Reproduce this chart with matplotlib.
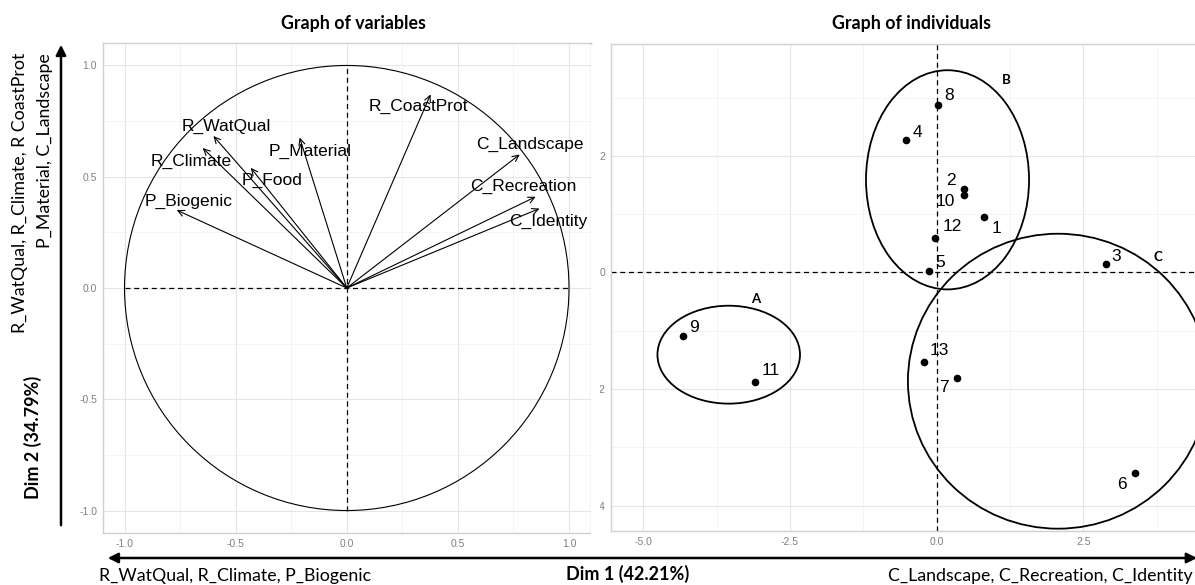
import matplotlib.pyplot as plt
from matplotlib.patches import Ellipse, Circle, Rectangle, FancyArrowPatch

plt.rcParams['font.family'] = ['Liberation Sans', 'DejaVu Sans']

# variables on the correlation circle
var_names = ["R_CoastProt", "R_WatQual", "R_Climate", "P_Food", "P_Material",
             "P_Biogenic", "C_Landscape", "C_Recreation", "C_Identity"]
var_dim1 = [0.377, -0.600, -0.648, -0.432, -0.212, -0.765, 0.778, 0.850, 0.867]
var_dim2 = [0.870, 0.683, 0.629, 0.540, 0.676, 0.350, 0.600, 0.410, 0.357]

# individuals
ind_names = ["1", "2", "3", "4", "5", "6", "7", "8", "9", "10", "11", "12", "13"]
ind_dim1 = [0.81, 0.46, 2.88, -0.52, -0.13, 3.38, 0.35, 0.03, -4.32, 0.46, -3.10, -0.02, -0.22]
ind_dim2 = [0.95, 1.43, 0.14, 2.27, 0.02, -3.44, -1.81, 2.88, -1.09, 1.33, -1.88, 0.60, -1.53]

# groups drawn as ellipses
group_names = ["A", "B", "C"]
group_cx = [-3.545, 0.185, 2.07]
group_cy = [-1.41, 1.59, -1.865]
group_rx = [1.215, 1.39, 2.56]
group_ry = [0.84, 1.88, 2.53]

# label placement (repel-like)
var_label_pos = {"R_CoastProt": (0.32, 0.815), "R_WatQual": (-0.544, 0.728),
                 "R_Climate": (-0.70, 0.57), "P_Food": (-0.338, 0.485),
                 "P_Material": (-0.166, 0.615), "P_Biogenic": (-0.711, 0.39),
                 "C_Landscape": (0.824, 0.645), "C_Recreation": (0.795, 0.458),
                 "C_Identity": (0.905, 0.30)}
# offsets in pixels (dx right, dy down)
ind_label_off = {"1": (12, 11), "2": (-13, -9), "3": (11, -8), "4": (11, -8),
                 "5": (11, -9), "6": (-13, 11), "7": (-13, 10), "8": (11, -9),
                 "9": (11, -9), "10": (-18, 7), "11": (16, -12), "12": (17, -11),
                 "13": (16, -11)}
group_label_pos = {"A": (-3.08, -0.45), "B": (1.19, 3.31), "C": (3.77, 0.26)}

W, H = 1195, 585
fig = plt.figure(figsize=(W / 100, H / 100), dpi=100)


def style_axes(ax, xmaj, xmin, ymaj, ymin):
    ax.set_xticks(xmaj)
    ax.set_xticks(xmin, minor=True)
    ax.set_yticks(ymaj)
    ax.set_yticks(ymin, minor=True)
    ax.grid(which='major', color='#E6E6E6', lw=0.8)
    ax.grid(which='minor', color='#F2F2F2', lw=0.6)
    ax.set_axisbelow(True)
    for s in ax.spines.values():
        s.set_color('#D0D0D0')
        s.set_linewidth(1.0)
    ax.tick_params(which='both', length=0, labelsize=7.5, labelcolor='#808080', pad=4)


# ---- left: graph of variables
ax1 = fig.add_axes([102.6 / W, 1 - 533 / H, 487.9 / W, 490 / H])
ax1.set_xlim(-1.0986, 1.0967)
ax1.set_ylim(-1.101, 1.101)
style_axes(ax1, [-1, -0.5, 0, 0.5, 1], [-0.75, -0.25, 0.25, 0.75],
           [-1, -0.5, 0, 0.5, 1], [-0.75, -0.25, 0.25, 0.75])
ax1.set_xticklabels(["-1.0", "-0.5", "0.0", "0.5", "1.0"])
ax1.set_yticklabels(["-1.0", "-0.5", "0.0", "0.5", "1.0"])
ax1.add_patch(Circle((0, 0), 1, fill=False, color='black', lw=0.8))
ax1.plot([-1, 1], [0, 0], color='black', lw=0.9, ls=(0, (4, 3)))
ax1.plot([0, 0], [-1, 1], color='black', lw=0.9, ls=(0, (4, 3)))
for name, x, y in zip(var_names, var_dim1, var_dim2):
    ax1.annotate("", xy=(x, y), xytext=(0, 0),
                 arrowprops=dict(arrowstyle="->,head_length=0.45,head_width=0.22",
                                 lw=0.8, color='black', shrinkA=0, shrinkB=0))
    lx, ly = var_label_pos[name]
    ax1.text(lx, ly, name, fontsize=12.5, ha='center', va='center')

# ---- right: graph of individuals
ax2 = fig.add_axes([610.7 / W, 1 - 531 / H, 584.3 / W, 487 / H])
ax2.set_xlim(-5.557, 4.404)
ax2.set_ylim(-4.435, 3.92)
style_axes(ax2, [-5, -2.5, 0, 2.5], [-3.75, -1.25, 1.25, 3.75],
           [-4, -2, 0, 2], [-3, -1, 1, 3])
ax2.set_xticklabels(["-5.0", "-2.5", "0.0", "2.5"])
ax2.spines['right'].set_visible(False)
ax2.axhline(0, color='black', lw=0.9, ls=(0, (4, 3)))
ax2.axvline(0, color='black', lw=0.9, ls=(0, (4, 3)))
ax2.plot(ind_dim1, ind_dim2, 'o', color='black', ms=4.5, ls='none')
for name, x, y in zip(ind_names, ind_dim1, ind_dim2):
    dx, dy = ind_label_off[name]
    ax2.annotate(name, (x, y), xytext=(dx * 0.72, -dy * 0.72), textcoords='offset points',
                 fontsize=12.5, ha='center', va='center')
for g, cx, cy, rx, ry in zip(group_names, group_cx, group_cy, group_rx, group_ry):
    ax2.add_patch(Ellipse((cx, cy), 2 * rx, 2 * ry, fill=False, color='black', lw=1.3))
    gx, gy = group_label_pos[g]
    ax2.text(gx, gy, g, fontsize=9.5, fontweight='bold', family='Lato', ha='center', va='center')

# hide the part of the right tick labels that the left panel covers
fig.patches.append(Rectangle((591 / W, 40 / H), 9 / W, 500 / H, transform=fig.transFigure,
                             facecolor='white', edgecolor='none', zorder=5))

# ---- titles and axis annotations
fig.text(353 / W, 1 - 24 / H, "Graph of variables", fontsize=12.8, fontweight='bold',
         family='Lato', ha='center', va='center')
fig.text(911 / W, 1 - 24 / H, "Graph of individuals", fontsize=12.8, fontweight='bold',
         family='Lato', ha='center', va='center')

fig.patches.append(FancyArrowPatch((105 / W, 1 - 558 / H), (1.004, 1 - 558 / H),
                                   transform=fig.transFigure, arrowstyle='<|-|>,head_length=6,head_width=3',
                                   color='black', lw=1.8, zorder=6))
fig.patches.append(FancyArrowPatch((61 / W, 1 - 528 / H), (61 / W, 1 - 42 / H),
                                   transform=fig.transFigure, arrowstyle='-|>,head_length=6,head_width=3',
                                   color='black', lw=1.8, zorder=6))

fig.text(99 / W, 1 - 576 / H, "R_WatQual, R_Climate, P_Biogenic", fontsize=12.8,
         family='Lato', ha='left', va='center')
fig.text(628 / W, 1 - 574 / H, "Dim 1 (42.21%)", fontsize=13, fontweight='bold',
         family='Lato', ha='center', va='center')
fig.text(1193 / W, 1 - 576 / H, "C_Landscape, C_Recreation, C_Identity", fontsize=12.8,
         family='Lato', ha='right', va='center')

fig.text(33 / W, 1 - 437 / H, "Dim 2 (34.79%)", fontsize=13, fontweight='bold',
         family='Lato', rotation=90, ha='center', va='center')
fig.text(20 / W, 1 - 53 / H, "R_WatQual, R_Climate, R CoastProt", fontsize=12.8,
         family='Lato', rotation=90, ha='center', va='top')
fig.text(45 / W, 1 - 53 / H, "P_Material, C_Landscape", fontsize=12.8,
         family='Lato', rotation=90, ha='center', va='top')

fig.savefig("out.png", dpi=100)
